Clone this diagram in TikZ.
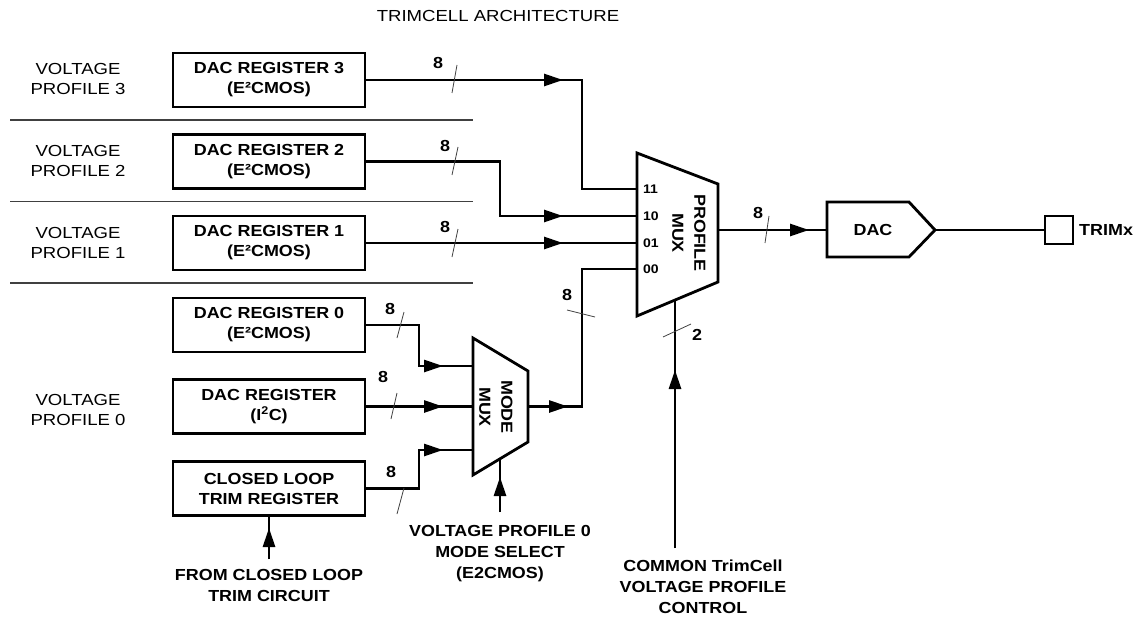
\documentclass[tikz,border=0pt]{standalone}
\usepackage{fontspec}
\setmainfont{Liberation Sans}[FakeStretch=1.12]
\newfontfamily\regfont{Liberation Sans}[FakeStretch=1.16]
\usetikzlibrary{arrows.meta}
\begin{document}
\begin{tikzpicture}[x=1pt,y=-1pt,
  sig/.style={line width=2.8pt},
  arr/.style={line width=2.8pt,-{Triangle[length=19pt,width=12pt]}},
  box/.style={draw,line width=2.8pt,minimum width=192pt,minimum height=54pt,inner sep=0pt,
    font=\bfseries\fontsize{16}{20}\selectfont,align=center},
  lbl/.style={font=\regfont\fontsize{16}{20}\selectfont,align=center,inner sep=0pt},
  blbl/.style={font=\bfseries\fontsize{16}{21}\selectfont,align=center,inner sep=0pt},
  num/.style={font=\bfseries\fontsize{16}{18}\selectfont,inner sep=0pt},
  pin/.style={font=\bfseries\fontsize{12.5}{14}\selectfont,inner sep=0pt,anchor=west},
  tick/.style={line width=0.8pt,black!75},
  sep/.style={line width=1.3pt,black!75},
  muxs/.style={line width=2.8pt,line join=miter}]
\useasboundingbox (0,0) rectangle (1136,626);

% title
\node[lbl] (title) at (498,16) {TRIMCELL ARCHITECTURE};

% profile labels
\node[lbl] (vp3) at (78,79) {VOLTAGE\\PROFILE 3};
\node[lbl] (vp2) at (78,161) {VOLTAGE\\PROFILE 2};
\node[lbl] (vp1) at (78,243) {VOLTAGE\\PROFILE 1};
\node[lbl] (vp0) at (78,410) {VOLTAGE\\PROFILE 0};

% separators
\draw[sep] (10,120) -- (473,120);
\draw[sep] (10,201.5) -- (473,201.5);
\draw[sep] (10,283) -- (473,283);

% registers
\node[box] (reg3) at (269,80) {DAC REGISTER 3\\(E²CMOS)};
\node[box] (reg2) at (269,161.5) {DAC REGISTER 2\\(E²CMOS)};
\node[box] (reg1) at (269,243) {DAC REGISTER 1\\(E²CMOS)};
\node[box] (reg0) at (269,325) {DAC REGISTER 0\\(E²CMOS)};
\node[box] (regi) at (269,406.5) {DAC REGISTER\\(I\textsuperscript{2}C)};
\node[box] (regcl) at (269,488.5) {CLOSED LOOP\\TRIM REGISTER};

% profile mux
\draw[muxs] (637,153) -- (718,184) -- (718,282) -- (637,316) -- cycle;
\node[rotate=-90,font=\bfseries\fontsize{16}{22}\selectfont,align=center] (pmux) at (689,233) {PROFILE\\MUX};
\coordinate (p11) at (637,189);
\coordinate (p10) at (637,216);
\coordinate (p01) at (637,243);
\coordinate (p00) at (637,269);
\coordinate (pout) at (718,230);
\coordinate (psel) at (675,300);
\node[pin] (l11) at (643,189) {11};
\node[pin] (l10) at (643,216) {10};
\node[pin] (l01) at (643,243) {01};
\node[pin] (l00) at (643,269) {00};

% mode mux
\draw[muxs] (473,338) -- (528,371) -- (528,442) -- (473,475) -- cycle;
\node[rotate=-90,font=\bfseries\fontsize{16}{22}\selectfont,align=center] (mmux) at (496,407) {MODE\\MUX};
\coordinate (m1) at (473,366);
\coordinate (m2) at (473,406.5);
\coordinate (m3) at (473,450);
\coordinate (mout) at (528,406.5);
\coordinate (msel) at (500,459);

% DAC
\draw[muxs] (827,202) -- (909,202) -- (935,230) -- (909,257) -- (827,257) -- cycle;
\node[font=\bfseries\fontsize{16}{20}\selectfont] (dac) at (873,230) {DAC};
\coordinate (dacin) at (827,230);
\coordinate (dacout) at (935,230);
\node[draw,line width=2.8pt,minimum size=28pt,inner sep=0pt] (trim) at (1059,230) {};
\node[font=\bfseries\fontsize{16}{20}\selectfont,anchor=west,inner sep=0pt] (trimx) at (1079,230) {TRIMx};

% junction coordinates
\coordinate (j3) at (582,80);
\coordinate (j2) at (500,161.5);
\coordinate (j0) at (582,269);
\coordinate (jr0) at (419,325);
\coordinate (jcl) at (419,488.5);
\coordinate (a11) at (563,80);
\coordinate (a10) at (563,216);
\coordinate (a01) at (563,243);
\coordinate (am1) at (443,366);
\coordinate (am2) at (443,406.5);
\coordinate (am3) at (443,450);
\coordinate (amo) at (568,406.5);
\coordinate (adac) at (809,230);

% connections to profile mux
\draw[sig] (reg3.east) -- (j3) |- (p11);
\draw[arr] (reg3.east) -- (a11);
\draw[sig] (reg2.east) -- (j2) |- (p10);
\draw[arr] (j2|-p10) -- (a10);
\draw[sig] (reg1.east) -- (p01);
\draw[arr] (reg1.east) -- (a01);
\draw[sig] (mout) -| (j0) -- (p00);
\draw[arr] (mout) -- (amo);

% connections to mode mux
\draw[sig] (reg0.east) -- (jr0) |- (m1);
\draw[arr] (jr0|-m1) -- (am1);
\draw[sig] (regi.east) -- (m2);
\draw[arr] (regi.east) -- (am2);
\draw[sig] (regcl.east) -- (jcl) |- (m3);
\draw[arr] (jcl|-m3) -- (am3);

% output
\draw[sig] (pout) -- (dacin);
\draw[arr] (pout) -- (adac);
\draw[sig] (dacout) -- (trim.west);

% bottom labels and control lines
\node[blbl] (fcl) at (269,585) {FROM CLOSED LOOP\\TRIM CIRCUIT};
\coordinate (clb) at (269,559);
\coordinate (acl) at (269,528);
\draw[sig] (clb) -- (regcl.south);
\draw[arr] (clb) -- (acl);

\node[blbl] (msl) at (500,554) {VOLTAGE PROFILE 0\\MODE SELECT\\(E2CMOS)};
\coordinate (msb) at (500,512);
\coordinate (ams) at (500,477);
\draw[sig] (msb) -- (msel);
\draw[arr] (msb) -- (ams);

\node[blbl] (ctl) at (703,587) {COMMON TrimCell\\VOLTAGE PROFILE\\CONTROL};
\coordinate (ctlb) at (675,548);
\coordinate (actl) at (675,370);
\draw[sig] (ctlb) -- (psel);
\draw[arr] (ctlb) -- (actl);

% bus width ticks and labels
\draw[tick] (457,65) -- (452,93);
\node[num] (n3) at (438,63) {8};
\draw[tick] (458,147) -- (452,175);
\node[num] (n2) at (445,146) {8};
\draw[tick] (458,229) -- (452,257);
\node[num] (n1) at (445,227) {8};
\draw[tick] (404,312) -- (397,338);
\node[num] (n0) at (390,309) {8};
\draw[tick] (397,393) -- (391,419);
\node[num] (ni) at (383,377) {8};
\draw[tick] (404,488) -- (397,514);
\node[num] (nc) at (391,472) {8};
\draw[tick] (567,310) -- (595,317);
\node[num] (n00) at (567,295) {8};
\draw[tick] (769,216) -- (765,243);
\node[num] (no) at (758,213) {8};
\draw[tick] (663,337) -- (691,324);
\node[num] (n2s) at (697,335) {2};
\end{tikzpicture}
\end{document}
